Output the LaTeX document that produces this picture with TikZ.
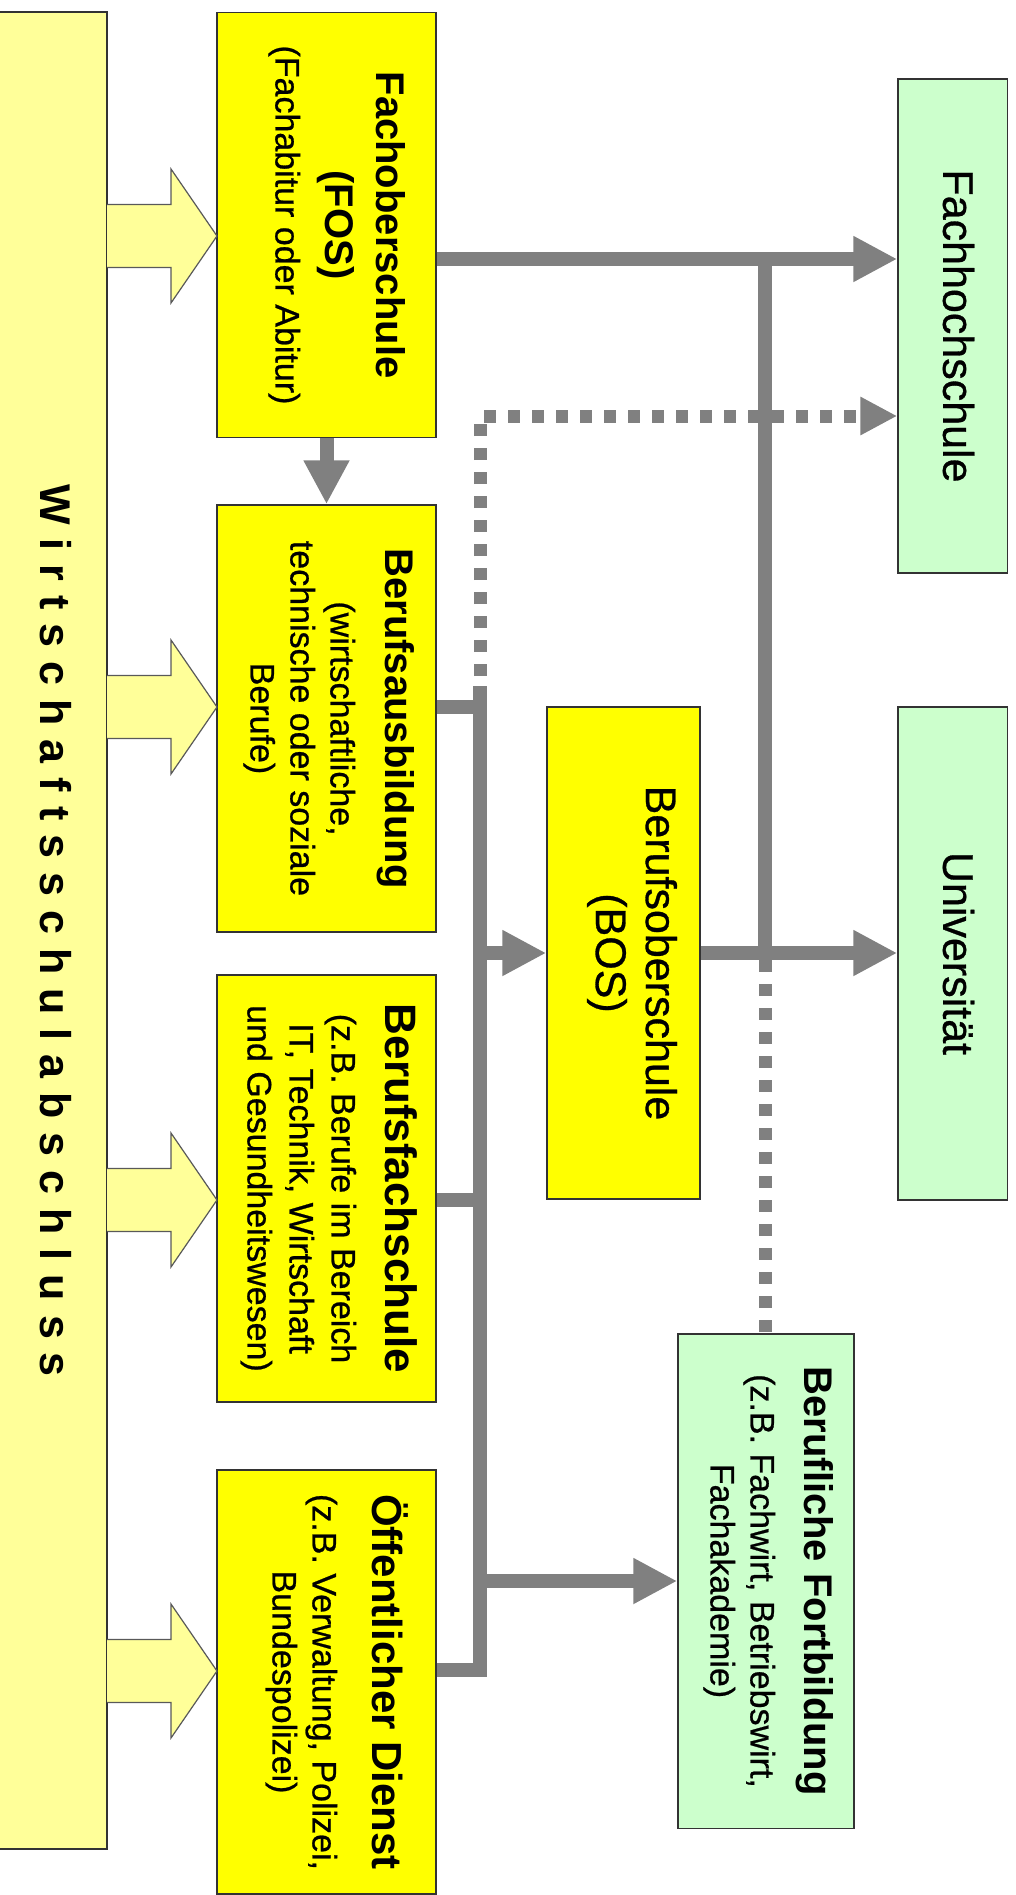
\documentclass[tikz,border=0pt]{standalone}
\usepackage{fontspec}
\setmainfont{Liberation Sans}[UprightFeatures={FakeBold=0.7}]
\usetikzlibrary{arrows.meta}

\definecolor{boxyellow}{HTML}{FFFF00}
\definecolor{paleyellow}{HTML}{FFFF99}
\definecolor{palegreen}{HTML}{CCFFCC}
\definecolor{flowgray}{HTML}{808080}

\newcommand{\vtext}[1]{\rotatebox{-90}{\begin{tabular}{@{}c@{}}#1\end{tabular}}}
\newcommand{\titlefont}{\fontsize{40}{46}\selectfont\bfseries}
\newcommand{\namefont}{\fontsize{43}{48}\selectfont}
\newcommand{\spaced}[1]{\foreach \wl [count=\wi] in {#1}{\ifnum\wi>1\kern14pt\fi\wl}}

\begin{document}
\begin{tikzpicture}[%
      x=1pt, y=-1pt,
      box/.style={draw=black!80, line width=1.5pt, inner sep=0pt, fill=boxyellow,
        font=\fontsize{34}{40}\selectfont},
      goal/.style={box, fill=palegreen},
      link/.style={draw=flowgray, line width=14pt},
      flow/.style={link, -{Triangle[length=44pt,width=43pt]}},
      dotlink/.style={draw=flowgray, line width=13pt, dash pattern=on 12pt off 12pt},
      dotflow/.style={dotlink, dash phase=14pt, -{Triangle[length=37pt,width=36pt]}},
      bigarrow/.style={draw=black!65, line width=1.2pt, fill=paleyellow},
      ]
      \useasboundingbox (0,0) rectangle (1016,1895);

      % left column
      \node[box, fill=paleyellow, minimum width=113pt, minimum height=1837pt,
        font=\fontsize{43}{48}\selectfont\bfseries] (wirt) at (50.5,930.5)
        {\hspace{10pt}\rotatebox{-90}{\spaced{W,i,r,t,s,c,h,a,f,t,s,s,c,h,u,l,a,b,s,c,h,l,u,s,s}}};

      % school boxes
      \node[box, minimum width=219pt, minimum height=425pt] (fos) at (326.5,225)
        {\hspace{16pt}\vtext{\titlefont Fachoberschule\\[10pt] \titlefont (FOS)\\[10pt] (Fachabitur oder Abitur)}};
      \node[box, minimum width=219pt, minimum height=427pt] (baus) at (326.5,718.5)
        {\vtext{\titlefont Berufsausbildung\\[15pt] (wirtschaftliche,\\ technische oder soziale\\ Berufe)}};
      \node[box, minimum width=219pt, minimum height=427pt] (bfs) at (326.5,1188.5)
        {\vtext{\fontsize{44}{50}\selectfont\bfseries Berufsfachschule\\[14pt] (z.B. Berufe im Bereich\\[2pt] IT, Technik, Wirtschaft\\[2pt] und Gesundheitswesen)}};
      \node[box, minimum width=219pt, minimum height=424pt] (oed) at (326.5,1682)
        {\hspace{16pt}\vtext{\fontsize{42}{48}\selectfont\bfseries Öffentlicher Dienst\\[20pt] (z.B. Verwaltung, Polizei,\\ Bundespolizei)}};
      \node[box, minimum width=153pt, minimum height=492pt, font=\namefont] (bos) at (623.5,953)
        {\hspace{14pt}\vtext{Berufsoberschule\\[2pt] (BOS)}};

      % goals
      \node[goal, minimum width=109.5pt, minimum height=494pt, font=\namefont] (fh) at (952.75,326)
        {\vtext{Fachhochschule}};
      \node[goal, minimum width=109.5pt, minimum height=493pt, font=\namefont] (uni) at (952.75,953.5)
        {\vtext{Universität}};
      \node[goal, minimum width=176pt, minimum height=494.5pt] (bf) at (766,1581)
        {\vtext{\titlefont Berufliche Fortbildung\\[14pt] (z.B. Fachwirt, Betriebswirt,\\ Fachakademie)}\hspace{12pt}};

      % block arrows
      \foreach \y in {236,707,1200,1671}
        \draw[bigarrow] (107,\y-31.5) -- (171,\y-31.5) -- (171,\y-67) -- (217,\y)
          -- (171,\y+67) -- (171,\y+31.5) -- (107,\y+31.5);

      % junctions
      \coordinate (jfh) at (765,259);
      \coordinate (jdot) at (765,960);
      \coordinate (jbustop) at (480,686);
      \coordinate (jcorner) at (480,416);
      \coordinate (jbaus) at (480,707);
      \coordinate (jbos) at (480,953);
      \coordinate (jbfs) at (480,1200);
      \coordinate (jbf) at (480,1581);
      \coordinate (joed) at (480,1670);

      % gray connectors
      \draw[flow] (fos.east |- jfh) -- (fh.west |- jfh);
      \draw[link] (jfh) -- (jdot);
      \draw[dotlink] (jdot) -- (jdot |- bf.north);
      \draw[flow] (fos.south) -- (baus.north);
      \draw[flow] (bos.east) -- (uni.west |- bos.east);
      \draw[link] (oed.east |- joed) -- (joed) -- (jbustop);
      \draw[link] (baus.east |- jbaus) -- (jbaus);
      \draw[link] (bfs.east |- jbfs) -- (jbfs);
      \draw[flow] (jbos) -- (bos.west |- jbos);
      \draw[flow] (jbf) -- (bf.west |- jbf);
      \draw[dotflow] (jbustop) -- (jcorner) -- (jcorner -| fh.west);
\end{tikzpicture}
\end{document}
